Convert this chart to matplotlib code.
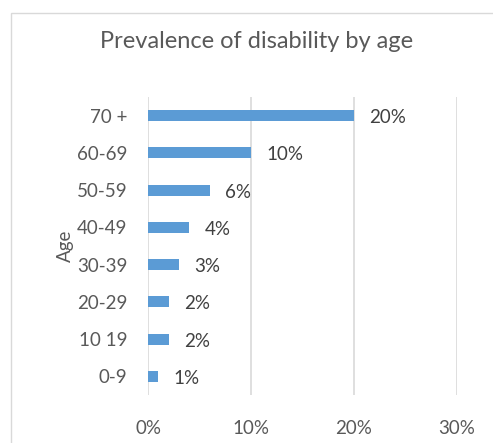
import matplotlib.pyplot as plt
from matplotlib.patches import Rectangle
from matplotlib.ticker import PercentFormatter

# prevalence by age band, top row first
ages = ['70 +', '60-69', '50-59', '40-49', '30-39', '20-29', '10 19', '0-9']
prevalence = [20, 10, 6, 4, 3, 2, 2, 1]

plt.rcParams['font.family'] = ['Lato', 'DejaVu Sans']
grey_text = '#595959'
grid_col = '#d9d9d9'
bar_col = '#5b9bd5'

fig = plt.figure(figsize=(4.93, 4.43), dpi=100)
W, H = 493, 443

# chart frame
fig.patches.append(Rectangle((11 / W, -0.1), 1.0, 1 - 13 / H + 0.1,
                             transform=fig.transFigure, fill=False,
                             edgecolor=grid_col, linewidth=1.0))

ax = fig.add_axes([148 / W, 1 - 395 / H, (457 - 148) / W, (395 - 97) / H])

ypos = list(range(len(ages)))
ax.barh(ypos, prevalence, height=0.3, color=bar_col, zorder=3)
ax.set_ylim(len(ages) - 0.5, -0.5)
ax.set_yticks(ypos)
ax.set_yticklabels(ages)

for y, v in zip(ypos, prevalence):
    ax.annotate(f'{v}%', xy=(v, y), xytext=(11, -1.5), textcoords='offset points',
                va='center', ha='left', fontsize=13.5, color='#404040')

ax.set_xlim(0, 30)
ax.set_xticks([0, 10, 20, 30])
ax.xaxis.set_major_formatter(PercentFormatter(decimals=0))
ax.grid(axis='x', color=grid_col, linewidth=1.2, zorder=0)

for s in ax.spines.values():
    s.set_visible(False)
ax.tick_params(axis='both', length=0, labelsize=13.5, colors=grey_text)
ax.tick_params(axis='y', pad=15)
ax.tick_params(axis='x', pad=18)

ax.set_ylabel('Age', fontsize=13.5, color=grey_text, labelpad=2)

fig.text(257 / W, 1 - 42 / H, 'Prevalence of disability by age',
         ha='center', va='center', fontsize=17, color=grey_text)

fig.savefig('out.png', dpi=100)
